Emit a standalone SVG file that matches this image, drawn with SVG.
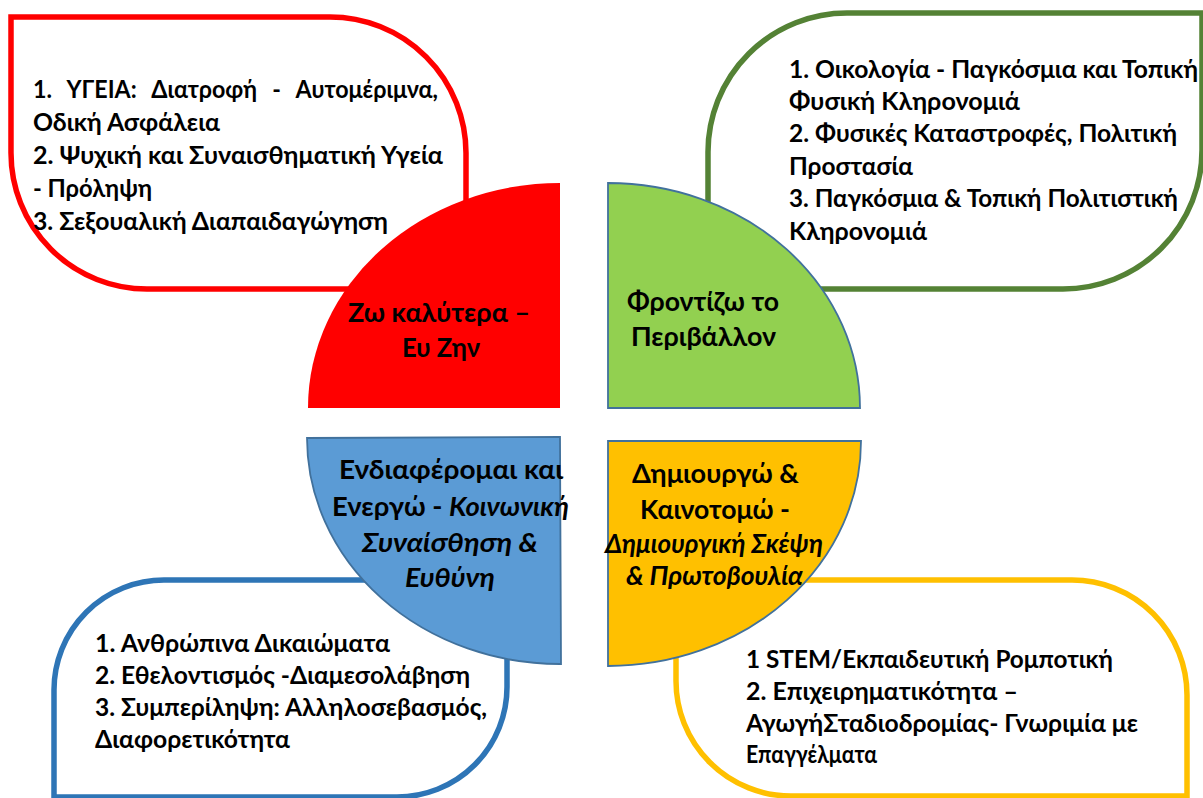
<svg xmlns="http://www.w3.org/2000/svg" width="1203" height="798" viewBox="0 0 1203 798">
<style>
.box{fill:#FFFFFF;stroke-width:5.5}
.q{stroke:#41719C;stroke-width:1.8}
.t{font-family:Lato,"Noto Sans","DejaVu Sans",sans-serif;font-weight:bold;font-size:24px;fill:#000000}
.l{font-family:Lato,"Noto Sans","DejaVu Sans",sans-serif;font-weight:bold;font-size:26px;fill:#000000}
.i{font-style:italic}
</style>
<rect width="1203" height="798" fill="#FFFFFF"/>
<g id="connectors"/>
<g id="node-health">
<path class="box" stroke="#FF0000" d="M11,17 H330 A136,136 0 0 1 466,153 V289 H147 A136,136 0 0 1 11,153 Z"/>
<text class="t" x="33" y="98" textLength="405" lengthAdjust="spacingAndGlyphs" style="word-spacing:10px">1. ΥΓΕΙΑ: Διατροφή - Αυτομέριμνα,</text>
<text class="t" x="33" y="131" textLength="187" lengthAdjust="spacingAndGlyphs">Οδική Ασφάλεια</text>
<text class="t" x="33" y="164" textLength="410" lengthAdjust="spacingAndGlyphs">2. Ψυχική και Συναισθηματική Υγεία</text>
<text class="t" x="33" y="197" textLength="119" lengthAdjust="spacingAndGlyphs">- Πρόληψη</text>
<text class="t" x="33" y="230" textLength="355" lengthAdjust="spacingAndGlyphs">3. Σεξουαλική Διαπαιδαγώγηση</text>
<path fill="#FF0000" d="M560,408 L308,408 A252,225 0 0 1 560,183 Z"/>
<text class="l" x="348" y="322" textLength="182" lengthAdjust="spacingAndGlyphs">Ζω καλύτερα –</text>
<text class="l" x="402" y="357" textLength="78" lengthAdjust="spacingAndGlyphs">Ευ Ζην</text>
</g>
<g id="node-environment">
<path class="box" stroke="#548235" d="M708,289 V152 A139,139 0 0 1 847,13 H1202 V150 A139,139 0 0 1 1063,289 Z"/>
<text class="t" x="789" y="78" textLength="409" lengthAdjust="spacingAndGlyphs">1. Οικολογία - Παγκόσμια και Τοπική</text>
<text class="t" x="789" y="110" textLength="231" lengthAdjust="spacingAndGlyphs">Φυσική Κληρονομιά</text>
<text class="t" x="789" y="142" textLength="388" lengthAdjust="spacingAndGlyphs">2. Φυσικές Καταστροφές, Πολιτική</text>
<text class="t" x="789" y="175" textLength="124" lengthAdjust="spacingAndGlyphs">Προστασία</text>
<text class="t" x="789" y="207" textLength="389" lengthAdjust="spacingAndGlyphs">3. Παγκόσμια &amp; Τοπική Πολιτιστική</text>
<text class="t" x="789" y="240" textLength="138" lengthAdjust="spacingAndGlyphs">Κληρονομιά</text>
<path class="q" fill="#92D050" d="M608,408 L608,183 A252,225 0 0 1 860,408 Z"/>
<text class="l" x="627" y="311" textLength="152" lengthAdjust="spacingAndGlyphs">Φροντίζω το</text>
<text class="l" x="631" y="346" textLength="145" lengthAdjust="spacingAndGlyphs">Περιβάλλον</text>
</g>
<g id="node-society">
<path class="box" stroke="#2E75B6" d="M54,797 V690 A110,110 0 0 1 164,580 H507 V687 A110,110 0 0 1 397,797 Z"/>
<text class="t" x="95" y="652" textLength="295" lengthAdjust="spacingAndGlyphs">1. Ανθρώπινα Δικαιώματα</text>
<text class="t" x="95" y="684" textLength="375" lengthAdjust="spacingAndGlyphs">2. Εθελοντισμός -Διαμεσολάβηση</text>
<text class="t" x="95" y="716" textLength="392" lengthAdjust="spacingAndGlyphs">3. Συμπερίληψη: Αλληλοσεβασμός,</text>
<text class="t" x="95" y="748" textLength="195" lengthAdjust="spacingAndGlyphs">Διαφορετικότητα</text>
<path class="q" fill="#5B9BD5" d="M560,437 L307,438 A253,226 0 0 0 561,664 Z"/>
<text class="l" x="339" y="479" textLength="224" lengthAdjust="spacingAndGlyphs">Ενδιαφέρομαι και</text>
<text class="l" x="332" y="516" textLength="237" lengthAdjust="spacingAndGlyphs">Ενεργώ - <tspan class="i">Κοινωνική</tspan></text>
<text class="l i" x="362" y="552" textLength="176" lengthAdjust="spacingAndGlyphs">Συναίσθηση &amp;</text>
<text class="l i" x="405" y="587" textLength="90" lengthAdjust="spacingAndGlyphs">Ευθύνη</text>
</g>
<g id="node-create">
<path class="box" stroke="#FFC000" d="M676,580 H1072 A115,115 0 0 1 1187,695 V796 H791 A115,115 0 0 1 676,681 Z"/>
<text class="t" x="746" y="668" textLength="367" lengthAdjust="spacingAndGlyphs">1 STEM/Εκπαιδευτική Ρομποτική</text>
<text class="t" x="746" y="700" textLength="272" lengthAdjust="spacingAndGlyphs">2. Επιχειρηματικότητα –</text>
<text class="t" x="746" y="732" textLength="392" lengthAdjust="spacingAndGlyphs">ΑγωγήΣταδιοδρομίας- Γνωριμία με</text>
<text class="t" x="746" y="763" textLength="131" lengthAdjust="spacingAndGlyphs">Επαγγέλματα</text>
<path class="q" fill="#FFC000" d="M608,441 L861,441 A253,225 0 0 1 608,666 Z"/>
<text class="l" x="632" y="483" textLength="167" lengthAdjust="spacingAndGlyphs">Δημιουργώ &amp;</text>
<text class="l" x="640" y="519" textLength="150" lengthAdjust="spacingAndGlyphs">Καινοτομώ -</text>
<text class="l i" x="605" y="553" textLength="218" lengthAdjust="spacingAndGlyphs" font-size="23">Δημιουργική Σκέψη</text>
<text class="l i" x="626" y="585" textLength="177" lengthAdjust="spacingAndGlyphs" font-size="23">&amp; Πρωτοβουλία</text>
</g>
</svg>
